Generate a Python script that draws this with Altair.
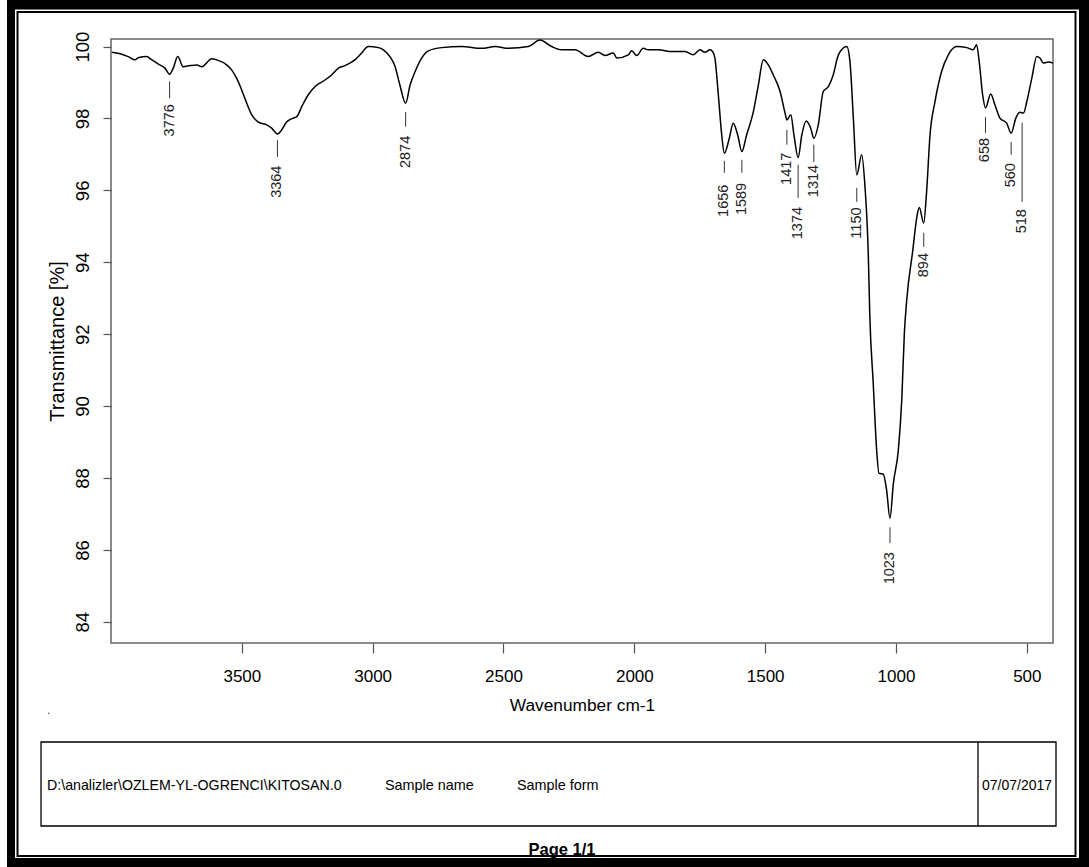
import altair as alt
import pandas as pd

# ---- spectrum ----
wavenumber = [3997, 3965, 3934, 3908, 3896, 3864, 3844, 3819, 3794, 3776, 3762, 3745, 3724,
              3698, 3672, 3653, 3615, 3596, 3558, 3539, 3520, 3501, 3481, 3462, 3437, 3405,
              3386, 3364, 3348, 3329, 3310, 3290, 3271, 3246, 3220, 3182, 3157, 3131, 3106,
              3068, 3042, 3017, 2978, 2959, 2934, 2915, 2896, 2874, 2857, 2838, 2813, 2787,
              2736, 2660, 2583, 2532, 2481, 2405, 2361, 2316, 2278, 2227, 2176, 2138, 2112,
              2080, 2067, 2023, 2010, 1991, 1966, 1947, 1908, 1857, 1806, 1775, 1749, 1730,
              1711, 1700, 1692, 1679, 1666, 1656, 1637, 1622, 1605, 1589, 1571, 1545, 1526,
              1507, 1488, 1469, 1443, 1424, 1417, 1402, 1390, 1374, 1360, 1343, 1326, 1314,
              1297, 1278, 1258, 1240, 1220, 1188, 1176, 1163, 1150, 1131, 1119, 1106, 1100,
              1087, 1074, 1065, 1049, 1036, 1023, 1010, 991, 978, 968, 959, 936, 919, 911,
              894, 883, 870, 851, 826, 800, 768, 730, 705, 692, 682, 669, 658, 638, 622, 603,
              577, 560, 542, 526, 513, 500, 481, 462, 450, 437, 417, 400]
transmittance = [99.84, 99.80, 99.72, 99.63, 99.69, 99.72, 99.63, 99.51, 99.40, 99.23, 99.40,
                 99.72, 99.44, 99.47, 99.49, 99.44, 99.66, 99.63, 99.49, 99.35, 99.12, 98.80,
                 98.42, 98.10, 97.90, 97.82, 97.73, 97.57, 97.68, 97.90, 97.99, 98.05, 98.33,
                 98.66, 98.89, 99.07, 99.21, 99.40, 99.47, 99.63, 99.82, 100.0, 99.97, 99.91,
                 99.72, 99.46, 98.93, 98.42, 98.93, 99.30, 99.68, 99.88, 99.97, 100.0, 99.95,
                 100.0, 99.95, 100.0, 100.18, 100.0, 99.91, 99.91, 99.72, 99.84, 99.75, 99.82,
                 99.68, 99.77, 99.88, 99.75, 99.95, 99.91, 99.91, 99.86, 99.86, 99.77, 99.91,
                 99.84, 99.91, 99.85, 99.68, 98.66, 97.54, 97.03, 97.45, 97.87, 97.54, 97.08,
                 97.54, 98.19, 98.93, 99.63, 99.49, 99.21, 98.75, 98.15, 97.96, 98.10, 97.54,
                 96.91, 97.54, 97.93, 97.73, 97.45, 97.82, 98.75, 98.89, 99.21, 99.77, 100.0,
                 99.58, 98.01, 96.43, 96.99, 96.15, 94.25, 92.49, 90.63, 88.78, 88.13, 88.11,
                 87.67, 86.88, 87.85, 88.78, 90.17, 92.03, 92.95, 94.32, 95.32, 95.52, 95.09,
                 95.97, 97.54, 98.47, 99.30, 99.77, 100.0, 99.97, 99.91, 100.05, 99.58, 98.66,
                 98.29, 98.68, 98.38, 98.01, 97.87, 97.59, 98.01, 98.17, 98.15, 98.47, 99.12,
                 99.72, 99.68, 99.54, 99.57, 99.54]

# ---- peak annotations ----
peak_wn = [3776, 3364, 2874, 1656, 1589, 1417, 1374, 1314, 1150, 1023, 894, 658, 560, 518]
peak_line_top = [99.03, 97.40, 98.18, 96.82, 96.85, 97.68, 96.71, 97.27, 96.07, 86.63, 94.82,
                 98.04, 97.35, 97.88]
peak_line_bottom = [98.56, 96.93, 97.77, 96.49, 96.49, 97.27, 95.79, 96.79, 95.68, 86.19, 94.43,
                    97.60, 96.99, 95.68]
peak_label_y = [97.95, 96.24, 97.07, 95.71, 95.76, 96.60, 95.09, 96.26, 95.09, 85.49, 93.92,
                97.12, 96.42, 95.14]

x_ticks = [3500, 3000, 2500, 2000, 1500, 1000, 500]
y_ticks = [84, 86, 88, 90, 92, 94, 96, 98, 100]

x_title = "Wavenumber cm-1"
y_title = "Transmittance [%]"
footer_path = "D:\\analizler\\OZLEM-YL-OGRENCI\\KITOSAN.0"
footer_name = "Sample name"
footer_form = "Sample form"
footer_date = "07/07/2017"
page_text = "Page 1/1"

SANS = "Liberation Sans"

spec = pd.DataFrame({"wn": wavenumber, "T": transmittance})
spec["idx"] = range(len(spec))
peaks = pd.DataFrame({"wn": peak_wn, "top": peak_line_top, "bot": peak_line_bottom,
                      "ly": peak_label_y, "label": [str(v) for v in peak_wn]})

xscale = alt.Scale(domain=[4000, 400], nice=False, zero=False)
yscale = alt.Scale(domain=[83.41, 100.21], nice=False, zero=False)

xaxis = alt.Axis(values=x_ticks, format="d", tickSize=10, tickColor="#555555", tickWidth=1.2,
                 domain=False, grid=False, labelFont=SANS, labelFontSize=17, labelColor="black",
                 labelPadding=23, labelBaseline="middle", labelFlush=False,
                 title=x_title, titleFont=SANS, titleFontSize=17.3, titleFontWeight="normal",
                 titleColor="black", titleX=471, titleY=62, titleAlign="center",
                 titleBaseline="middle")
yaxis = alt.Axis(values=y_ticks, tickSize=8, tickColor="#555555", tickWidth=1.2, domain=False,
                 grid=False, labelFont=SANS, labelFontSize=18.5, labelColor="black",
                 labelAngle=270, labelAlign="center", labelBaseline="middle", labelPadding=20.5,
                 labelFlush=False,
                 title=y_title, titleFont=SANS, titleFontSize=20, titleFontWeight="normal",
                 titleColor="black", titleAngle=270, titleX=-53.5, titleY=302,
                 titleAlign="center", titleBaseline="middle")

line = alt.Chart(spec).mark_line(color="black", strokeWidth=1.5, interpolate="monotone").encode(
    x=alt.X("wn:Q", scale=xscale, axis=xaxis),
    y=alt.Y("T:Q", scale=yscale, axis=yaxis),
    order=alt.Order("idx:Q"),
)

ticks = alt.Chart(peaks).mark_rule(color="#333333", strokeWidth=1).encode(
    x=alt.X("wn:Q", scale=xscale), y=alt.Y("top:Q", scale=yscale), y2="bot:Q")

labels = alt.Chart(peaks).mark_text(angle=270, align="center", baseline="middle",
                                    font=SANS, fontSize=14.5, color="#222222").encode(
    x=alt.X("wn:Q", scale=xscale), y=alt.Y("ly:Q", scale=yscale), text="label:N")

one = pd.DataFrame({"k": [0]})


def box(x0, x1, y0, y1, **kw):
    return alt.Chart(one).mark_rect(**kw).encode(
        x=alt.value(x0), x2=alt.value(x1), y=alt.value(y0), y2=alt.value(y1))


def txt(s, x, y, align="left", **kw):
    return alt.Chart(one).mark_text(text=s, align=align, baseline="middle", **kw).encode(
        x=alt.value(x), y=alt.value(y))


# page frame (relative to plot origin at 111, 39)
frame = [
    box(-104, 978, -39, -29.5, color="black"),
    box(-104, 978, 819, 828, color="black"),
    box(-104, -96, -39, 828, color="black"),
    box(968, 978, -39, 828, color="black"),
    box(-93.5, 964.5, -27, 817, fillOpacity=0, stroke="black", strokeWidth=2),
]
footer = [
    box(-70, 945, 703, 787, fillOpacity=0, stroke="black", strokeWidth=1.3),
    alt.Chart(one).mark_rule(color="black", strokeWidth=1.3).encode(
        x=alt.value(867), y=alt.value(703), y2=alt.value(787)),
    txt(footer_path, -64, 747, font=SANS, fontSize=14.2, color="black"),
    txt(footer_name, 274, 747, font=SANS, fontSize=14.4, color="black"),
    txt(footer_form, 406, 747, font=SANS, fontSize=14.4, color="black"),
    txt(footer_date, 906, 747, align="center", font=SANS, fontSize=14, color="black"),
    txt(page_text, 451, 811, align="center", font=SANS, fontSize=16.5, fontWeight="bold",
        color="black"),
    txt(".", -64, 671, font=SANS, fontSize=12, color="#444444"),
]

chart = alt.layer(line, ticks, labels, *frame, *footer).properties(
    width=942, height=604,
    padding={"left": 111, "top": 39, "right": 36, "bottom": 224},
    autosize=alt.AutoSizeParams(type="none"),
    background="white",
).configure_view(stroke="#666666", strokeWidth=1.5)

chart.save("out.html", embed_options={"renderer": "svg", "actions": False})
